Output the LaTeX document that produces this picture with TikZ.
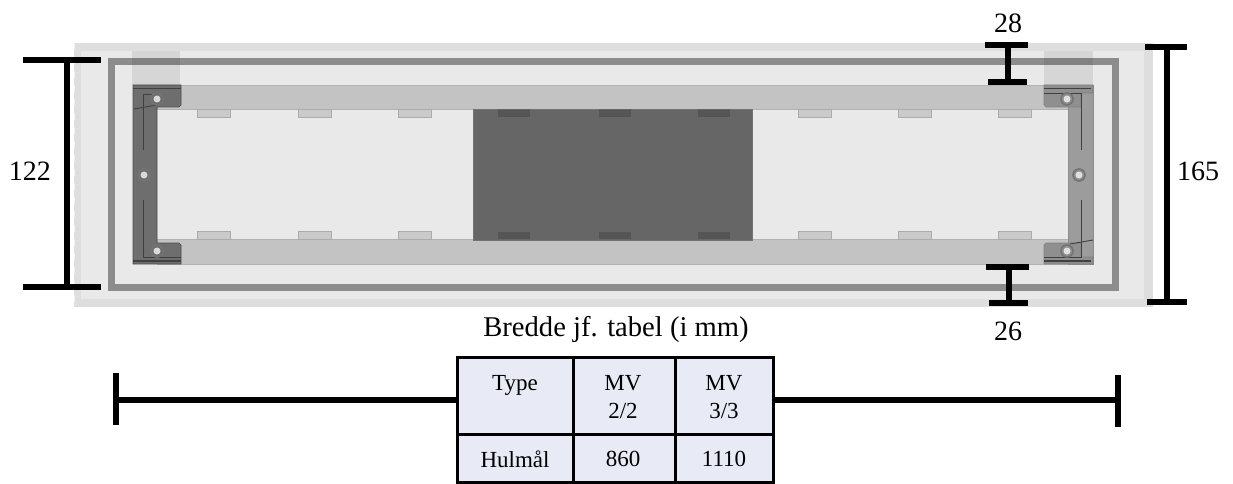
\documentclass[tikz,border=0pt]{standalone}
\usepackage{fontspec}
\setmainfont{Liberation Serif}
\definecolor{base}{HTML}{E9E9E9}
\definecolor{band}{HTML}{DEDEDE}
\definecolor{ringc}{HTML}{8C8C8C}
\definecolor{rail}{HTML}{C3C3C3}
\definecolor{tabl}{HTML}{CACACA}
\definecolor{tabe}{HTML}{ABABAB}
\definecolor{darkb}{HTML}{666666}
\definecolor{tabd}{HTML}{555555}
\definecolor{bl}{HTML}{6E6E6E}
\definecolor{brv}{HTML}{9C9C9C}
\definecolor{bra}{HTML}{8F8F8F}
\definecolor{cellc}{HTML}{E8EAF5}
\tikzset{
  dimline/.style={line width=6.3pt,black},
  lbl/.style={inner sep=0pt,font=\fontsize{28}{30}\selectfont},
  celltext/.style={inner sep=0pt,font=\fontsize{23}{28}\selectfont,align=center,anchor=north},
  gridl/.style={line width=3pt,black},
  hole/.style={circle,fill=#1,draw=black!55,line width=1.6pt,minimum size=12pt,inner sep=0pt},
  holec/.style={circle,fill=#1,inner sep=0pt,minimum size=7pt},
  seam/.style={line width=.9pt,black!75},
}
\begin{document}
\begin{tikzpicture}[x=1pt,y=-1pt]
\useasboundingbox (0,0) rectangle (1233,484);
% wall
\fill[band] (74,43) rectangle (1153,307);
\draw[white,opacity=.6,line width=1pt,dash pattern=on 7pt off 7pt] (74,43) rectangle (1153,307);
\fill[base] (81,51) rectangle (1144,299);
\draw[ringc,line width=6.6pt] (111.3,61.3) rectangle (1115.7,287.7);
% corner overlays
\fill[black,opacity=.08] (132,51) rectangle (180,85);
\fill[black,opacity=.08] (1044,51) rectangle (1093,85);
% rails
\fill[rail,draw=black!30,line width=.7pt] (157,85) rectangle (1068,109);
\fill[rail,draw=black!30,line width=.7pt] (157,239) rectangle (1068,264);
% tabs
\foreach \a in {197,298,398,798,898,998}{
  \fill[tabl,draw=tabe,line width=.8pt] (\a,109) rectangle ++(33,8.5);
  \fill[tabl,draw=tabe,line width=.8pt] (\a,231) rectangle ++(33,8);
}
% centre
\fill[darkb,draw=black!55,line width=.8pt] (473,109) rectangle (752,240);
\foreach \a in {497,598,697}{
  \fill[tabd,draw=black!60,line width=.8pt] (\a,109) rectangle ++(33.5,8.5);
  \fill[tabd,draw=black!60,line width=.8pt] (\a,231) rectangle ++(33.5,8.5);
}
% left bracket
\fill[bl,draw=black!70,line width=.6pt] (133,85) -- (181,85) -- (181,105) -- (179,107) -- (157,107) -- (157,243) -- (179,243) -- (181,245) -- (181,264) -- (133,264) -- cycle;
\draw[seam,line width=1.2pt] (133,88.5) -- (181,88.5);
\draw[seam,line width=1.2pt] (133,261) -- (181,261);
\draw[seam] (157,94) -- (143,94) -- (143,150);
\draw[seam] (143,200) -- (143,257) -- (181,257);
\draw[seam] (134,109) -- (157,105);
% right bracket
\fill[brv,draw=black!45,line width=.6pt] (1068,85) rectangle (1093,264);
\fill[bra,draw=black!50,line width=.6pt] (1093,85) -- (1044,85) -- (1044,105) -- (1046,107) -- (1068,107) -- (1081,107) -- (1081,93) -- (1093,93) -- cycle;
\fill[bra,draw=black!50,line width=.6pt] (1093,264) -- (1044,264) -- (1044,245) -- (1046,243) -- (1081,243) -- (1081,257) -- (1093,257) -- cycle;
\draw[seam,line width=1.2pt] (1044,88.5) -- (1091,88.5);
\draw[seam,line width=1.2pt] (1044,261) -- (1091,261);
\draw[seam] (1044,93) -- (1081,93) -- (1081,150);
\draw[seam] (1081,200) -- (1081,257) -- (1044,257);
\draw[seam] (1070,244) -- (1093,240);
% holes
\foreach \p/\f in {157/99,144/175,157/251}{
  \node[hole=bl] at (\p,\f) {}; \node[holec=black!15] at (\p,\f) {};
}
\foreach \p/\f in {1067/99,1079/175,1067/251}{
  \node[hole=bra] at (\p,\f) {}; \node[holec=black!12] at (\p,\f) {};
}
% dimension marks
\coordinate (lt) at (67,60); \coordinate (lb) at (67,287);
\coordinate (lta) at (23,60); \coordinate (ltb) at (101,60);
\coordinate (lba) at (23,287); \coordinate (lbb) at (101,287);
\draw[dimline] (lta) -- (ltb); \draw[dimline] (lba) -- (lbb); \draw[dimline] (lt) -- (lb);
\coordinate (rt) at (1167,47); \coordinate (rb) at (1167,302);
\coordinate (rta) at (1145,47); \coordinate (rtb) at (1187,47);
\coordinate (rba) at (1147,302); \coordinate (rbb) at (1187,302);
\draw[dimline] (rta) -- (rtb); \draw[dimline] (rba) -- (rbb); \draw[dimline] (rt) -- (rb);
\coordinate (ta) at (1008,45); \coordinate (tb) at (1008,82);
\draw[dimline] (985,45) -- (1028,45); \draw[dimline] (988,82) -- (1027,82); \draw[dimline] (ta) -- (tb);
\coordinate (ba) at (1009,267); \coordinate (bb) at (1009,303);
\draw[dimline] (986,267) -- (1029,267); \draw[dimline] (989,303) -- (1028,303); \draw[dimline] (ba) -- (bb);
% labels
\node[lbl] (n122) at (30,171) {122};
\node[lbl] (n165) at (1198,171) {165};
\node[lbl] (n28) at (1008,23) {28};
\node[lbl] (n26) at (1008,331) {26};
\node[lbl,font=\fontsize{28.6}{30}\selectfont] (nbredde) at (616,329) {Bredde jf. tabel (i mm)};
% table
\fill[cellc] (457,357) rectangle (773,482);
\draw[gridl] (457,357) rectangle (773,482);
\draw[gridl] (573,357) -- (573,482);
\draw[gridl] (675,357) -- (675,482);
\draw[gridl] (457,434) -- (773,434);
\coordinate (tl) at (457,400); \coordinate (tr) at (773,400);
\coordinate (el) at (116,400); \coordinate (er) at (1118,400);
\draw[dimline] (el) -- (tl); \draw[dimline] (tr) -- (er);
\draw[dimline] (116,373) -- (116,425); \draw[dimline] (1118,375) -- (1118,427);
\node[celltext] (ctype) at (515,375) {Type};
\node[celltext] (cmv2) at (623,375) {MV\\2/2};
\node[celltext] (cmv3) at (724,375) {MV\\3/3};
\node[celltext] (chul) at (515,451) {Hulmål};
\node[celltext] (c860) at (623,451) {860};
\node[celltext] (c1110) at (724,451) {1110};
\end{tikzpicture}
\end{document}
